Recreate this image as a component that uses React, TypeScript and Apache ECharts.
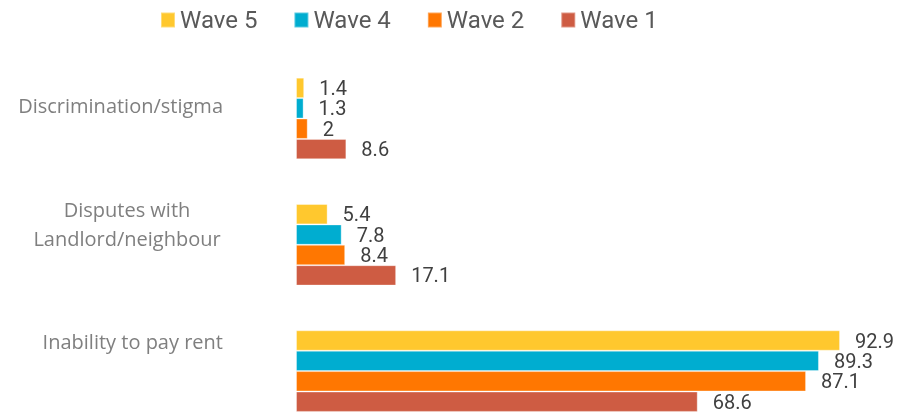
import React, { useEffect, useRef } from "react";
import * as echarts from "echarts";

const categories = ["Inability to pay rent", "Disputes with\nLandlord/neighbour", "Discrimination/stigma"];
const wave1 = [68.6, 17.1, 8.6];
const wave2 = [87.1, 8.4, 2];
const wave4 = [89.3, 7.8, 1.3];
const wave5 = [92.9, 5.4, 1.4];
const legendOrder = ["Wave 5", "Wave 4", "Wave 2", "Wave 1"];

const colors: Record<string, string> = {
  "Wave 1": "#CE5C43",
  "Wave 2": "#FF7701",
  "Wave 4": "#00ADD0",
  "Wave 5": "#FFC82E",
};

export default function App() {
  const ref = useRef<HTMLDivElement>(null);
  useEffect(() => {
    if (!ref.current) return;
    const chart = echarts.init(ref.current, undefined, { renderer: "svg" });
    const mk = (name: string, data: number[]) => ({
      name,
      type: "bar",
      data,
      barWidth: 20.4,
      barGap: "0%",
      itemStyle: { color: colors[name], borderColor: "rgba(255,255,255,0.35)", borderWidth: 1 },
      label: {
        show: true,
        position: "right",
        distance: 15,
        color: "#404040",
        fontFamily: "Roboto",
        fontSize: 20,
      },
    });
    const spacer = [60, 42, 27];
    chart.setOption({
      animation: false,
      legend: {
        data: legendOrder,
        left: 160,
        top: 8,
        padding: 0,
        itemWidth: 14,
        itemHeight: 15,
        itemGap: 36,
        icon: "rect",
        textStyle: { fontFamily: "Roboto", fontSize: 24, color: "#595959" },
      },
      grid: { left: 296, top: 118.5, width: 585.6, height: 252.6, containLabel: false },
      xAxis: { type: "value", min: 0, max: 100, show: false },
      yAxis: {
        type: "category",
        boundaryGap: false,
        data: categories.map((c, i) => ({
          value: c,
          textStyle: i === 1 ? { align: "center", padding: [0, 192, 0, 0] } : { align: "right" },
        })),
        axisLine: { show: false },
        axisTick: { show: false },
        splitLine: { show: false },
        axisLabel: {
          margin: 73,
          formatter: (v: string, i: number) =>
            v.split("\n").map((l) => `{t|${l}}`).join("\n") + `\n{s${i}| }`,
          rich: {
            t: { fontFamily: "Open Sans", fontSize: 20, lineHeight: 29, color: "#7f7f7f" },
            s0: { fontSize: 1, lineHeight: spacer[0] },
            s1: { fontSize: 1, lineHeight: spacer[1] },
            s2: { fontSize: 1, lineHeight: spacer[2] },
          },
        },
      },
      series: [mk("Wave 5", wave5), mk("Wave 4", wave4), mk("Wave 2", wave2), mk("Wave 1", wave1)],
    });
    return () => chart.dispose();
  }, []);
  return <div ref={ref} style={{ position: "fixed", left: 0, top: 0, width: 900, height: 417 }} />;
}
